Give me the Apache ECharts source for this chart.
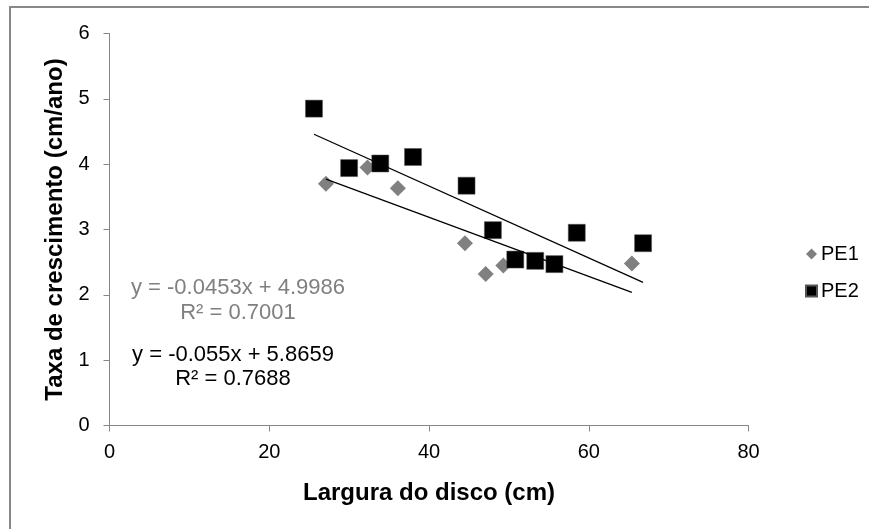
<!DOCTYPE html>
<html>
<head>
<meta charset="utf-8">
<script src="https://cdn.jsdelivr.net/npm/echarts@6/dist/echarts.min.js"></script>
<style>
  html, body { margin: 0; padding: 0; background: #fff; }
  #chart { width: 869px; height: 529px; }
</style>
</head>
<body>
<div id="chart"></div>
<script>
// Disc width (cm) vs. growth rate (cm/year) for two plots
const pe1Width = [27.1, 32.3, 36.1, 44.5, 47.1, 49.3, 65.4];
const pe1Rate  = [3.70, 3.95, 3.63, 2.79, 2.32, 2.45, 2.48];

const pe2Width = [25.6, 30.0, 33.9, 38.0, 44.7, 48.0, 50.8, 53.3, 55.7, 58.5, 66.8];
const pe2Rate  = [4.85, 3.94, 4.01, 4.11, 3.67, 2.99, 2.54, 2.52, 2.47, 2.95, 2.79];

// Linear trend lines: [slope, intercept, R²]
const pe1Fit = [-0.0453, 4.9986, 0.7001];
const pe2Fit = [-0.055, 5.8659, 0.7688];

const seriesNames = ['PE1', 'PE2'];
const xTicks = { min: 0, max: 80, step: 20 };
const yTicks = { min: 0, max: 6, step: 1 };

const pairs = (xs, ys) => xs.map((x, i) => [x, ys[i]]);
const trend = (xs, fit) => {
  const lo = Math.min(...xs), hi = Math.max(...xs);
  return [[lo, fit[0] * lo + fit[1]], [hi, fit[0] * hi + fit[1]]];
};
const eqText = fit => {
  const b = fit[1] >= 0 ? ' + ' + fit[1] : ' - ' + Math.abs(fit[1]);
  return 'y = ' + fit[0] + 'x' + b + '\nR² = ' + fit[2].toFixed(4);
};

const FONT = '"Liberation Sans", Arial, sans-serif';
const AXIS_GRAY = '#868686';

const chart = echarts.init(document.getElementById('chart'), null, { renderer: 'canvas' });

chart.setOption({
  animation: false,
  backgroundColor: '#fff',
  textStyle: { fontFamily: FONT },
  grid: { left: 109.5, right: 120.5, top: 33.5, bottom: 103.5, containLabel: false },
  xAxis: {
    type: 'value',
    min: xTicks.min, max: xTicks.max, interval: xTicks.step,
    name: 'Largura do disco (cm)',
    nameLocation: 'middle',
    nameGap: 56,
    nameTextStyle: { fontFamily: FONT, fontSize: 24, fontWeight: 'bold', color: '#000' },
    axisLine: { show: true, lineStyle: { color: AXIS_GRAY, width: 1 } },
    axisTick: { show: true, inside: false, length: 6, lineStyle: { color: AXIS_GRAY } },
    axisLabel: { fontFamily: FONT, fontSize: 20, color: '#000', margin: 17 },
    splitLine: { show: false }
  },
  yAxis: {
    type: 'value',
    min: yTicks.min, max: yTicks.max, interval: yTicks.step,
    name: 'Taxa de crescimento (cm/ano)',
    nameLocation: 'middle',
    nameGap: 42,
    nameTextStyle: { fontFamily: FONT, fontSize: 24, fontWeight: 'bold', color: '#000' },
    axisLine: { show: true, lineStyle: { color: AXIS_GRAY, width: 1 } },
    axisTick: { show: true, inside: false, length: 6, lineStyle: { color: AXIS_GRAY } },
    axisLabel: { fontFamily: FONT, fontSize: 20, color: '#000', margin: 20 },
    splitLine: { show: false }
  },
  legend: {
    data: [
      { name: seriesNames[0], icon: 'diamond' },
      { name: seriesNames[1], icon: 'rect' }
    ],
    orient: 'vertical',
    left: 800,
    top: 239,
    itemWidth: 11,
    itemHeight: 11,
    itemGap: 17,
    textStyle: { fontFamily: FONT, fontSize: 20, color: '#000', lineHeight: 20, padding: [0, 0, 0, -1] }
  },
  series: [
    {
      name: seriesNames[0],
      type: 'scatter',
      symbol: 'diamond',
      symbolSize: 16,
      itemStyle: { color: '#808080', opacity: 1 },
      z: 2,
      data: pairs(pe1Width, pe1Rate)
    },
    {
      name: seriesNames[1],
      type: 'scatter',
      symbol: 'rect',
      symbolSize: 17,
      itemStyle: { color: '#000', borderColor: '#555', borderWidth: 0.5, opacity: 1 },
      z: 3,
      data: pairs(pe2Width, pe2Rate)
    },
    {
      name: 'PE1 trend',
      type: 'line',
      showSymbol: false,
      symbol: 'none',
      lineStyle: { color: '#000', width: 1.3 },
      z: 4,
      silent: true,
      data: trend(pe1Width, pe1Fit)
    },
    {
      name: 'PE2 trend',
      type: 'line',
      showSymbol: false,
      symbol: 'none',
      lineStyle: { color: '#000', width: 1.3 },
      z: 4,
      silent: true,
      data: trend(pe2Width, pe2Fit)
    }
  ],
  graphic: [
    {
      type: 'rect',
      shape: { x: 10, y: 7, width: 900, height: 600 },
      style: { fill: 'none', stroke: '#888', lineWidth: 2 },
      silent: true,
      z: 0
    },
    {
      type: 'text',
      x: 238, y: 275,
      style: {
        text: eqText(pe1Fit),
        fontFamily: FONT, fontSize: 22, lineHeight: 25,
        fill: '#808080', align: 'center', verticalAlign: 'top'
      },
      z: 5
    },
    {
      type: 'text',
      x: 233, y: 343,
      style: {
        text: eqText(pe2Fit),
        fontFamily: FONT, fontSize: 22, lineHeight: 24,
        fill: '#000', align: 'center', verticalAlign: 'top'
      },
      z: 5
    }
  ]
});
</script>
</body>
</html>
